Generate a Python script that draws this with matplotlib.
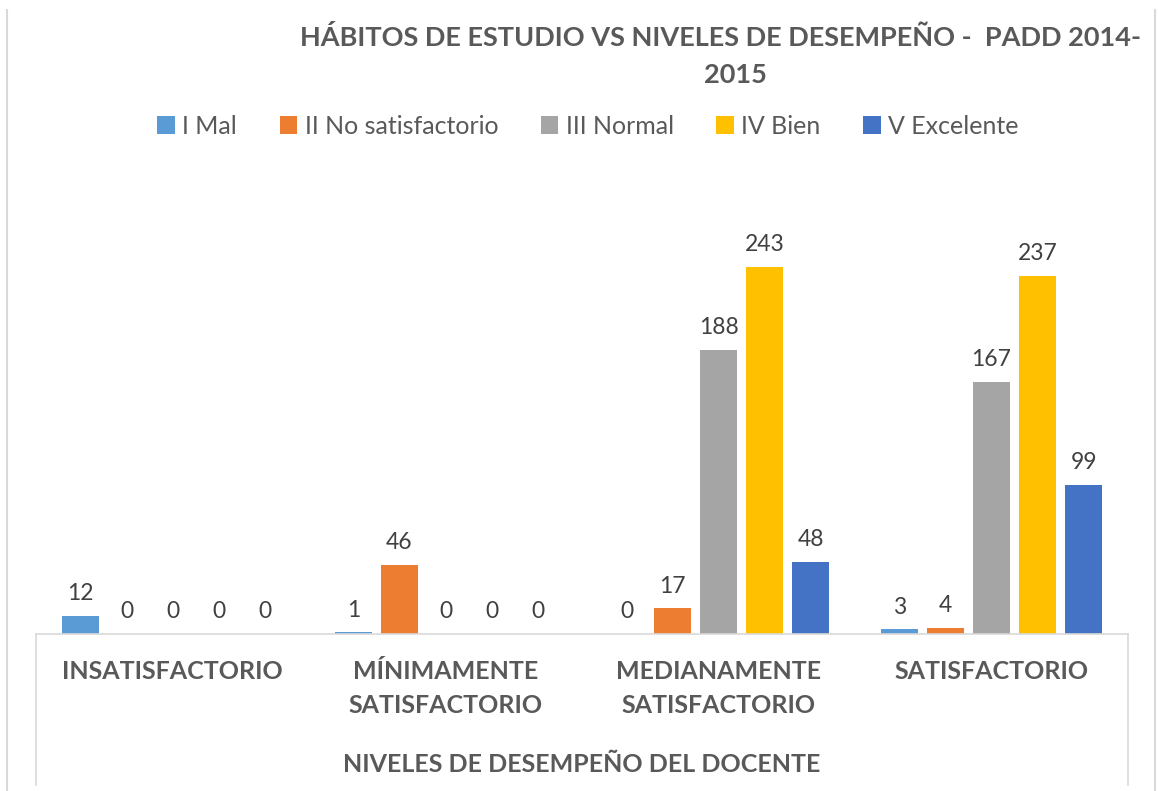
import numpy as np
import matplotlib.pyplot as plt

plt.rcParams['font.family'] = ['Lato', 'DejaVu Sans']

# datos
categorias = ['INSATISFACTORIO', 'MÍNIMAMENTE\nSATISFACTORIO',
              'MEDIANAMENTE\nSATISFACTORIO', 'SATISFACTORIO']
series = ['I Mal', 'II No satisfactorio', 'III Normal', 'IV Bien', 'V Excelente']
mal = [12, 1, 0, 3]
no_satisfactorio = [0, 46, 17, 4]
normal = [0, 0, 188, 167]
bien = [0, 0, 243, 237]
excelente = [0, 0, 48, 99]
valores = [mal, no_satisfactorio, normal, bien, excelente]
colores = ['#5B9BD5', '#ED7D31', '#A5A5A5', '#FFC000', '#4472C4']

W, H = 1158, 791
fig = plt.figure(figsize=(W / 100, H / 100), dpi=100)
ax = fig.add_axes([36 / W, (H - 634) / H, (1128 - 36) / W, (634 - 181) / H])

x = np.arange(len(categorias))
paso = 0.1685
ancho = 0.132
for i, (nombre, vals, c) in enumerate(zip(series, valores, colores)):
    barras = ax.bar(x + (i - 2) * paso, vals, ancho, color=c, label=nombre)
    ax.bar_label(barras, padding=8.5, fontsize=16.5, color='#404040')

ax.set_xlim(-0.5, len(categorias) - 0.5)
ax.set_ylim(0, 300)
ax.set_yticks([])
ax.set_xticks([])
for s in ['top', 'right', 'left']:
    ax.spines[s].set_visible(False)
ax.spines['bottom'].set_color('#D9D9D9')
ax.spines['bottom'].set_linewidth(1.2)

# etiquetas de categoria
for xi, cat in zip(x, categorias):
    ax.text(xi, -17, cat, ha='center', va='top', fontsize=18, fontweight='bold',
            color='#595959', linespacing=1.6, transform=ax.transData, clip_on=False)

# lineas del eje de categorias
fig.add_artist(plt.Line2D([36 / W, 36 / W], [(H - 634) / H, (H - 785) / H],
                          color='#D9D9D9', lw=1.2))
fig.add_artist(plt.Line2D([1128 / W, 1128 / W], [(H - 634) / H, (H - 785) / H],
                          color='#D9D9D9', lw=1.2))
# borde del grafico
fig.add_artist(plt.Line2D([7 / W, 7 / W], [0, (H - 10) / H], color='#D9D9D9', lw=1.5))
fig.add_artist(plt.Line2D([1155 / W, 1155 / W], [0, (H - 10) / H], color='#D9D9D9', lw=1.5))

fig.text(582 / W, (H - 765) / H, 'NIVELES DE DESEMPEÑO DEL DOCENTE', ha='center', va='center',
         fontsize=18, fontweight='bold', color='#595959')

fig.text(721 / W, (H - 38) / H, 'HÁBITOS DE ESTUDIO VS NIVELES DE DESEMPEÑO -  PADD 2014-',
         ha='center', va='center', fontsize=19.5, fontweight='bold', color='#595959')
fig.text(735 / W, (H - 75) / H, '2015', ha='center', va='center',
         fontsize=19.5, fontweight='bold', color='#595959')

fig.legend(loc='center', bbox_to_anchor=(588 / W, (H - 126) / H), ncol=5, frameon=False,
           fontsize=18, labelcolor='#595959', handlelength=0.7, handleheight=0.7,
           handletextpad=0.3, columnspacing=1.7)

fig.savefig('out.png', dpi=100)
